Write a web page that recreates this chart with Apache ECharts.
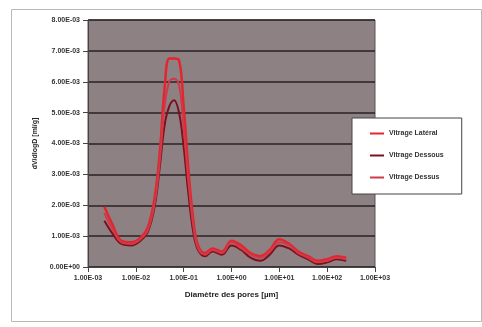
<!DOCTYPE html>
<html>
<head>
<meta charset="utf-8">
<script src="https://cdn.jsdelivr.net/npm/echarts@6/dist/echarts.min.js"></script>
<style>
  html, body { margin: 0; padding: 0; background: #fff; }
  #chart { width: 482px; height: 327px; }
</style>
</head>
<body>
<div id="chart"></div>
<script>
// pore diameters (µm) and the three measured curves
var diameters = [0.0022, 0.0032, 0.005, 0.008, 0.0125, 0.018, 0.025, 0.032, 0.04, 0.05, 0.063, 0.08,
  0.1, 0.125, 0.16, 0.2, 0.28, 0.4, 0.63, 1, 1.6, 2.5, 4, 6.3, 10, 16, 25, 40, 63, 100, 160, 250];

var seriesNames = ["Vitrage Latéral", "Vitrage Dessous", "Vitrage Dessus"];

var lateral = [1.95, 1.4, 0.85, 0.8, 0.95, 1.3, 2.3, 3.8, 5.8, 6.75, 6.75, 6.7,
  5.2, 3.2, 1.5, 0.7, 0.45, 0.6, 0.5, 0.85, 0.7, 0.45, 0.35, 0.55, 0.9, 0.75, 0.5, 0.35, 0.2, 0.25, 0.35, 0.3];
var dessous = [1.5, 1.1, 0.75, 0.7, 0.85, 1.15, 2.0, 3.3, 4.6, 5.2, 5.4, 5.0,
  3.9, 2.4, 1.1, 0.55, 0.35, 0.5, 0.4, 0.7, 0.55, 0.3, 0.2, 0.4, 0.7, 0.6, 0.4, 0.25, 0.1, 0.15, 0.25, 0.2];
var dessus = [1.75, 1.25, 0.8, 0.75, 0.9, 1.2, 2.1, 3.5, 5.2, 6.0, 6.1, 5.9,
  4.5, 2.8, 1.3, 0.6, 0.4, 0.55, 0.45, 0.8, 0.6, 0.4, 0.3, 0.5, 0.8, 0.7, 0.45, 0.3, 0.15, 0.2, 0.3, 0.25];

var colors = ["#e3262e", "#7e0f1c", "#cf3a48"];

function expLabel(v) {
  var s = Number(v).toExponential(2).toUpperCase();
  return s.replace(/E([+-])(\d)$/, "E$10$2");
}

function pairs(vals) {
  return diameters.map(function (d, i) { return [d, vals[i] / 1000]; });
}

var myChart = echarts.init(document.getElementById("chart"));

var option = {
  animation: false,
  color: colors,
  graphic: [{
    type: "rect",
    left: 9, top: 7,
    shape: { width: 470, height: 312 },
    style: { fill: "none", stroke: "#b8b8b8", lineWidth: 1 },
    z: -1
  }],
  grid: {
    left: 88, right: 107, top: 20, bottom: 60,
    show: true,
    backgroundColor: "#8d8184",
    borderColor: "#555",
    borderWidth: 1
  },
  legend: {
    orient: "vertical",
    left: 352, top: 118,
    backgroundColor: "#fff",
    borderColor: "#444",
    borderWidth: 1,
    padding: [12, 18, 13, 18],
    itemGap: 15,
    itemWidth: 14, itemHeight: 2,
    icon: "rect",
    textStyle: { fontSize: 7, fontWeight: "bold", color: "#333" },
    data: seriesNames
  },
  xAxis: {
    type: "log",
    logBase: 10,
    min: 0.001, max: 1000,
    name: "Diamètre des pores [µm]",
    nameLocation: "middle",
    nameGap: 24,
    nameTextStyle: { fontSize: 8, fontWeight: "bold", color: "#222" },
    axisLine: { lineStyle: { color: "#444" } },
    axisTick: { show: true, lineStyle: { color: "#444" } },
    splitLine: { show: false },
    minorTick: { show: false },
    axisLabel: { fontSize: 7, fontWeight: "bold", color: "#333", formatter: expLabel, margin: 8 }
  },
  yAxis: {
    type: "value",
    min: 0, max: 0.008, interval: 0.001,
    name: "dV/dlogD [ml/g]",
    nameLocation: "middle",
    nameGap: 46,
    nameTextStyle: { fontSize: 7, fontWeight: "bold", color: "#222" },
    axisLine: { show: true, lineStyle: { color: "#444" } },
    axisTick: { show: true, lineStyle: { color: "#444" } },
    splitLine: { show: true, lineStyle: { color: "#2a2226", width: 1.5 } },
    axisLabel: { fontSize: 7, fontWeight: "bold", color: "#333", formatter: expLabel, margin: 8 }
  },
  series: [
    { name: seriesNames[0], type: "line", data: pairs(lateral), smooth: 0.4, showSymbol: false, lineStyle: { width: 2.5 } },
    { name: seriesNames[1], type: "line", data: pairs(dessous), smooth: 0.4, showSymbol: false, lineStyle: { width: 2 } },
    { name: seriesNames[2], type: "line", data: pairs(dessus), smooth: 0.4, showSymbol: false, lineStyle: { width: 2 } }
  ]
};

myChart.setOption(option);
</script>
</body>
</html>
